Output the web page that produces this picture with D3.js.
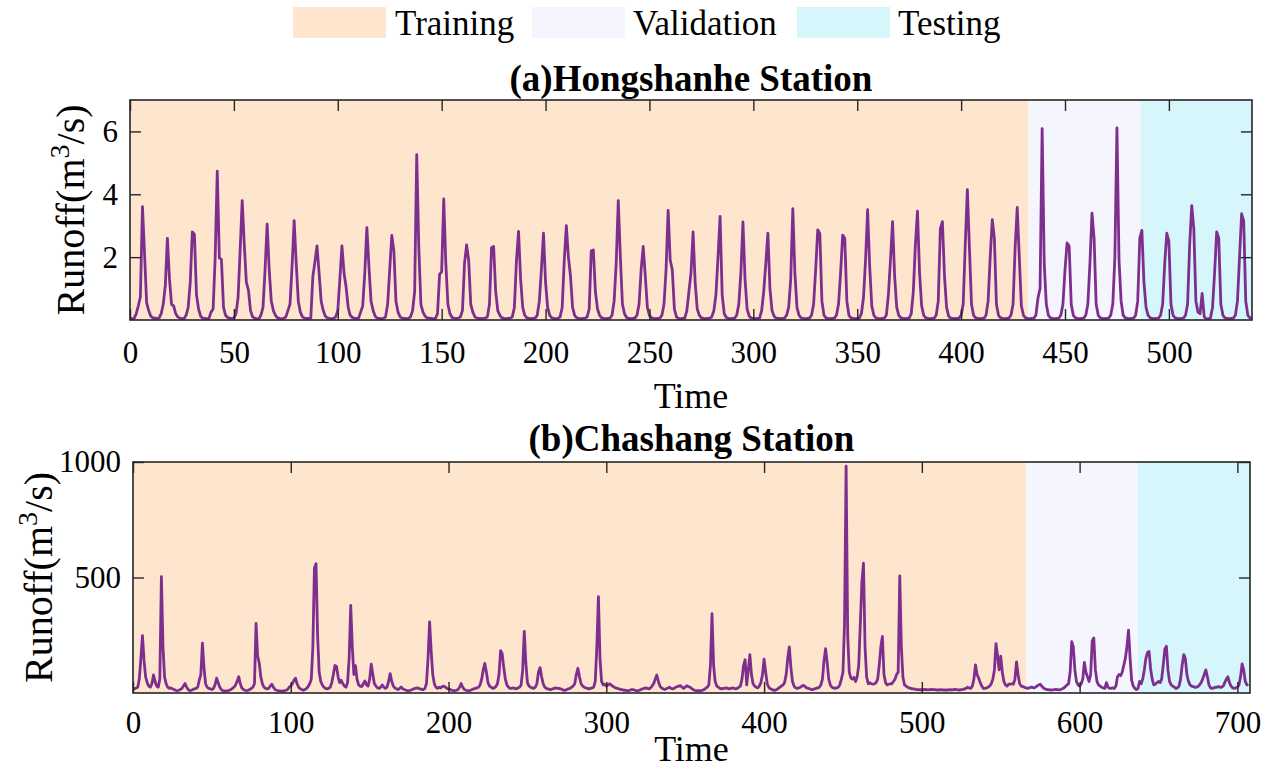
<!DOCTYPE html>
<html><head><meta charset="utf-8">
<script src="https://cdn.jsdelivr.net/npm/d3@7"></script>
<style>
body{margin:0;background:#fff;}
svg{display:block;}
text{font-family:"Liberation Serif","Times New Roman",serif;fill:#000;}
</style>
</head><body>
<svg id="chart" width="1279" height="771"></svg>
<script>
// ---------------- data ----------------
const legendLabels = ["Training", "Validation", "Testing"];
const phaseColors = ["#FDE5CE", "#F5F5FD", "#D6F6FC"];
const topTitle = "(a)Hongshanhe Station";
const bottomTitle = "(b)Chashang Station";
const xLabel = "Time";
const topSplits = [0, 432.5, 486.6, 540];
const bottomSplits = [0, 566, 637, 708];
const topXTicks = [0, 50, 100, 150, 200, 250, 300, 350, 400, 450, 500];
const topYTicks = [2, 4, 6];
const bottomXTicks = [0, 100, 200, 300, 400, 500, 600, 700];
const bottomYTicks = [500, 1000];

// Hongshanhe monthly runoff (m3/s), time index 0..540
const hongshanhe = [
0.05,0.04,0.05,0.2,0.45,0.74,3.61,2.1,0.55,0.3,0.12,0.07,
0.06,0.05,0.06,0.2,0.5,1.1,2.6,1.3,0.5,0.45,0.2,0.1,
0.06,0.04,0.05,0.15,0.4,1.2,2.8,2.72,0.8,0.35,0.12,0.06,
0.05,0.04,0.05,0.25,0.35,2.0,4.74,1.97,1.93,0.4,0.15,0.08,
0.06,0.05,0.06,0.2,0.7,2.2,3.8,2.4,1.2,0.95,0.3,0.1,
0.06,0.03,0.04,0.15,0.4,1.6,3.05,1.6,0.6,0.3,0.15,0.07,
0.05,0.04,0.05,0.1,0.3,0.5,1.7,3.16,1.8,0.6,0.25,0.1,
0.06,0.05,0.05,0.06,1.38,1.85,2.36,1.5,0.6,0.3,0.12,0.07,
0.05,0.04,0.05,0.1,0.3,1.3,2.36,1.5,1.05,0.4,0.15,0.08,
0.06,0.05,0.06,0.25,0.45,1.5,2.94,1.7,0.6,0.3,0.12,0.06,
0.05,0.04,0.05,0.1,0.5,1.6,2.69,2.2,0.6,0.25,0.1,0.06,
0.05,0.04,0.05,0.1,0.3,0.9,5.26,2.3,0.5,0.25,0.12,0.07,
0.06,0.05,0.04,0.05,0.2,1.45,1.54,3.85,1.8,0.5,0.2,0.08,
0.06,0.05,0.06,0.1,0.3,1.8,2.39,1.9,0.5,0.25,0.1,0.06,
0.05,0.04,0.05,0.06,0.1,0.5,2.3,2.34,0.9,0.3,0.15,0.07,
0.05,0.04,0.05,0.06,0.1,0.4,1.9,2.82,1.3,0.4,0.15,0.07,
0.05,0.04,0.05,0.06,0.15,0.6,1.6,2.76,1.2,0.4,0.15,0.07,
0.05,0.04,0.05,0.1,0.4,1.9,3.0,2.0,1.4,0.4,0.15,0.07,
0.05,0.04,0.05,0.06,0.1,0.35,2.2,2.23,0.9,0.35,0.15,0.07,
0.05,0.04,0.05,0.06,0.15,0.6,1.8,3.8,2.0,0.5,0.2,0.08,
0.05,0.04,0.05,0.06,0.15,0.5,1.6,2.34,1.4,0.4,0.15,0.07,
0.05,0.04,0.05,0.06,0.15,0.5,1.6,3.49,1.9,1.6,0.35,0.1,
0.05,0.04,0.05,0.06,0.3,0.9,1.5,2.8,1.2,0.35,0.15,0.07,
0.05,0.04,0.05,0.06,0.1,0.3,0.8,2.0,3.3,0.8,0.2,0.08,
0.05,0.04,0.05,0.06,0.15,0.5,1.5,3.12,1.3,0.35,0.12,0.06,
0.05,0.04,0.05,0.06,0.3,0.9,1.8,2.76,1.0,0.3,0.12,0.06,
0.05,0.04,0.05,0.06,0.15,0.4,1.3,3.54,1.5,0.4,0.15,0.07,
0.05,0.04,0.05,0.06,0.15,0.5,1.6,2.87,2.75,0.6,0.15,0.07,
0.05,0.04,0.05,0.06,0.15,0.5,1.5,2.7,2.6,0.6,0.15,0.07,
0.05,0.04,0.05,0.06,0.2,0.7,1.9,3.51,1.7,0.45,0.15,0.07,
0.05,0.04,0.05,0.06,0.15,0.8,1.9,3.13,1.4,0.4,0.15,0.07,
0.05,0.04,0.05,0.06,0.2,0.9,2.4,3.46,1.5,0.45,0.15,0.07,
0.05,0.04,0.05,0.06,0.15,0.6,2.9,3.13,1.4,0.4,0.12,0.06,
0.05,0.04,0.05,0.06,0.15,0.5,2.4,4.15,2.3,0.5,0.15,0.07,
0.05,0.04,0.05,0.06,0.15,0.6,2.0,3.19,2.6,0.5,0.15,0.07,
0.05,0.04,0.05,0.06,0.15,0.5,2.3,3.58,2.0,0.45,0.15,0.07,
0.05,0.04,0.05,0.06,0.15,0.7,1.0,6.09,1.8,0.5,0.15,0.07,
0.05,0.04,0.05,0.06,0.15,0.5,1.6,2.45,2.35,0.5,0.15,0.07,
0.05,0.04,0.05,0.06,0.15,0.5,1.8,3.4,2.6,0.5,0.15,0.07,
0.05,0.04,0.05,0.06,0.15,0.5,2.0,6.11,1.9,0.6,0.15,0.07,
0.05,0.04,0.05,0.06,0.15,0.6,2.6,2.85,1.2,0.4,0.15,0.07,
0.05,0.04,0.05,0.06,0.15,0.5,1.8,2.76,2.5,0.5,0.15,0.07,
0.05,0.04,0.05,0.06,0.15,0.5,2.4,3.64,2.9,0.6,0.25,0.2,
0.85,0.1,0.03,0.04,0.06,0.4,1.5,2.8,2.6,0.5,0.15,0.07,
0.05,0.04,0.05,0.06,0.15,0.6,2.0,3.38,3.15,0.6,0.15,0.07,
0.05
];

// Chashang runoff (m3/s), time index 0..707
const chashang = [
20,18,22,25,60,150,248,140,70,45, 30,25,40,78,50,30,25,60,504,200,
70,40,25,20,22,18,15,12,10,12, 15,20,30,41,25,15,10,12,15,18,
20,25,55,80,216,110,40,25,20,18, 15,20,35,64,45,25,15,10,8,9,
10,12,15,20,25,35,50,71,40,22, 15,12,10,12,15,20,25,40,301,160,
130,70,40,25,20,18,20,30,38,25, 15,12,10,9,8,8,10,12,15,25,
30,40,55,64,40,25,18,15,12,15, 20,28,40,60,200,540,560,250,90,50,
35,25,20,18,20,25,45,80,119,115, 70,45,55,40,30,25,45,150,379,200,
80,119,60,35,30,28,40,52,35,30, 60,125,80,40,30,22,20,25,35,25,
20,25,50,84,50,30,22,18,15,20, 26,18,15,12,10,10,12,15,18,20,
22,20,18,15,15,20,40,150,308,180, 80,40,25,20,25,22,28,30,25,20,
18,15,12,10,10,12,15,25,41,25, 15,12,10,10,12,15,18,20,22,25,
35,60,100,128,90,45,30,25,20,22, 28,40,80,183,170,110,60,35,25,20,
20,22,20,18,22,25,35,100,267,130, 45,30,25,22,20,25,40,90,110,70,
40,25,20,18,15,15,18,20,22,20, 20,18,15,12,12,15,18,20,25,30,
40,80,107,70,40,30,25,22,20,18, 20,22,25,50,200,417,150,50,35,38,
30,35,40,35,30,25,22,20,18,15, 15,12,12,10,10,12,15,15,12,10,
10,12,15,18,20,22,20,18,22,30, 40,60,78,50,30,22,18,15,18,22,
25,20,18,20,25,28,30,32,25,20, 25,32,28,25,20,15,12,10,10,10,
10,12,15,20,25,35,120,343,120,50, 30,25,20,18,20,20,22,20,18,20,
22,20,18,20,25,30,60,120,144,35, 100,166,80,40,30,25,22,30,45,80,
147,90,40,25,18,15,12,12,15,20, 25,30,35,45,80,150,200,110,50,30,
22,20,22,25,30,33,28,22,20,18, 15,15,18,20,22,25,35,60,140,192,
130,60,35,25,22,20,22,25,35,60, 90,300,982,250,90,65,60,68,50,70,
120,300,480,562,200,70,40,45,40,38, 40,45,60,120,200,245,80,45,35,38,
40,40,50,60,80,90,507,200,70,35, 30,25,22,20,18,18,16,15,15,14,
14,15,16,15,14,15,16,15,15,14, 13,14,15,14,13,12,13,14,15,14,
15,16,15,14,13,15,16,18,20,25, 22,20,30,60,122,80,65,45,30,20,
20,22,25,30,40,60,100,214,160,100, 160,90,50,35,30,38,38,40,38,60,
135,80,40,30,28,25,22,20,22,25, 25,22,25,30,35,38,30,22,18,15,
15,14,13,14,15,16,15,14,15,18, 22,28,35,40,90,222,200,100,50,35,
30,40,60,132,90,70,50,80,225,238, 100,50,35,30,25,22,20,45,25,20,
20,22,20,30,70,80,75,90,120,150, 200,272,150,55,30,20,15,20,50,40,
60,100,150,175,180,105,60,35,38,45, 50,45,60,120,190,202,100,50,35,30,
25,20,22,30,60,120,166,150,80,50, 35,30,28,25,25,28,35,45,60,80,
100,70,35,22,20,22,25,25,28,25, 25,30,45,60,70,45,30,22,20,22,
25,35,70,126,100,50,35,38
];

// ---------------- drawing ----------------
const svg = d3.select("#chart");
const axisColor = "#262626";
const lineColor = "#7E2F8E";

// legend
const legendItems = [
  {sx: 293, tx: 395},
  {sx: 532, tx: 633},
  {sx: 797, tx: 898}
];
legendLabels.forEach((lab, i) => {
  svg.append("rect").attr("x", legendItems[i].sx).attr("y", 7).attr("width", 93).attr("height", 31)
    .attr("fill", phaseColors[i]);
  svg.append("text").attr("x", legendItems[i].tx).attr("y", 35).attr("font-size", 35).text(lab);
});

function drawPanel(cfg) {
  const x = d3.scaleLinear().domain(cfg.xDomain).range([cfg.left, cfg.right]);
  const y = d3.scaleLinear().domain(cfg.yDomain).range([cfg.bottom, cfg.top]);
  const g = svg.append("g");
  const id = "clip" + cfg.id;
  g.append("clipPath").attr("id", id).append("rect")
    .attr("x", cfg.left).attr("y", cfg.top)
    .attr("width", cfg.right - cfg.left).attr("height", cfg.bottom - cfg.top);

  for (let i = 0; i < 3; i++) {
    g.append("rect")
      .attr("x", x(cfg.splits[i])).attr("y", cfg.top)
      .attr("width", x(cfg.splits[i + 1]) - x(cfg.splits[i]))
      .attr("height", cfg.bottom - cfg.top)
      .attr("fill", phaseColors[i])
      .attr("clip-path", `url(#${id})`);
  }

  const line = d3.line().x((d, i) => x(i)).y(d => y(d));
  g.append("path").datum(cfg.data)
    .attr("d", line)
    .attr("fill", "none")
    .attr("stroke", lineColor)
    .attr("stroke-width", 2.8)
    .attr("stroke-linejoin", "round")
    .attr("clip-path", `url(#${id})`);

  const tickLen = 11;
  const ax = g.append("g").attr("transform", `translate(0,${cfg.bottom})`)
    .call(d3.axisBottom(x).tickValues(cfg.xTicks).tickSizeInner(-tickLen).tickSizeOuter(0)
      .tickPadding(cfg.xPad).tickFormat(d3.format("d")));
  const axT = g.append("g").attr("transform", `translate(0,${cfg.top})`)
    .call(d3.axisTop(x).tickValues(cfg.xTicks).tickSizeInner(-tickLen).tickSizeOuter(0).tickFormat(""));
  const ay = g.append("g").attr("transform", `translate(${cfg.left},0)`)
    .call(d3.axisLeft(y).tickValues(cfg.yTicks).tickSizeInner(-tickLen).tickSizeOuter(0)
      .tickPadding(12).tickFormat(d3.format("d")));
  const ayR = g.append("g").attr("transform", `translate(${cfg.right},0)`)
    .call(d3.axisRight(y).tickValues(cfg.yTicks).tickSizeInner(-tickLen).tickSizeOuter(0).tickFormat(""));

  [ax, axT, ay, ayR].forEach(a => {
    a.select(".domain").remove();
    a.selectAll("line").attr("stroke", axisColor).attr("stroke-width", 1.4);
    a.selectAll("text").attr("font-family", "'Liberation Serif','Times New Roman',serif")
      .attr("font-size", 31).attr("fill", "#222");
  });

  g.append("rect").attr("x", cfg.left).attr("y", cfg.top)
    .attr("width", cfg.right - cfg.left).attr("height", cfg.bottom - cfg.top)
    .attr("fill", "none").attr("stroke", axisColor).attr("stroke-width", 1.6);

  g.append("text").attr("x", (cfg.left + cfg.right) / 2).attr("y", cfg.titleY)
    .attr("text-anchor", "middle").attr("font-size", 37).attr("font-weight", "bold").text(cfg.title);

  g.append("text").attr("x", (cfg.left + cfg.right) / 2).attr("y", cfg.xLabelY)
    .attr("text-anchor", "middle").attr("font-size", 36).attr("fill", "#111").text(xLabel);

  const yl = g.append("text")
    .attr("transform", `translate(${cfg.yLabelX},${(cfg.top + cfg.bottom) / 2}) rotate(-90)`)
    .attr("text-anchor", "middle").attr("font-size", 40).attr("fill", "#111");
  yl.append("tspan").text("Runoff(m");
  yl.append("tspan").attr("dy", -15).attr("font-size", 28).text("3");
  yl.append("tspan").attr("dy", 15).text("/s)");
}

drawPanel({
  id: "a", data: hongshanhe, xDomain: [0, 540], yDomain: [0, 7],
  left: 130, right: 1252, top: 100, bottom: 320,
  splits: topSplits, xTicks: topXTicks, yTicks: topYTicks,
  xPad: 21, title: topTitle, titleY: 91, xLabelY: 408, yLabelX: 84
});
drawPanel({
  id: "b", data: chashang, xDomain: [0, 708], yDomain: [0, 1000],
  left: 133, right: 1250, top: 462, bottom: 693,
  splits: bottomSplits, xTicks: bottomXTicks, yTicks: bottomYTicks,
  xPad: 18, title: bottomTitle, titleY: 451, xLabelY: 761, yLabelX: 52
});
</script>
</body></html>
